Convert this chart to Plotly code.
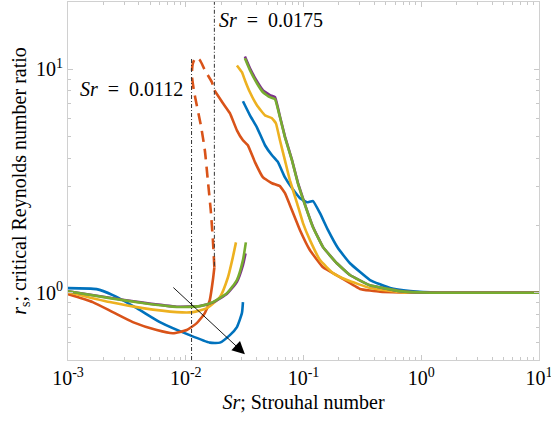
import numpy as np
import plotly.graph_objects as go

# ---- data (Sr, r_s) ----
blue_lo_sr = [0.001, 0.00175, 0.0024, 0.00384, 0.00603, 0.0108, 0.016, 0.0195, 0.0237, 0.0272, 0.030, 0.0306]
blue_lo_r = [1.049, 1.038, 0.976, 0.853, 0.739, 0.646, 0.598, 0.598, 0.646, 0.702, 0.811, 0.908]
blue_hi_sr = [0.0306, 0.0351, 0.0402, 0.0471, 0.054, 0.0607, 0.0696, 0.0798, 0.0934, 0.107, 0.1205, 0.138, 0.1616, 0.196, 0.248, 0.367, 0.544, 0.805, 1.44, 3.0, 10.0]
blue_hi_r = [7.19, 6.22, 5.5, 4.57, 4.12, 3.84, 3.28, 2.94, 2.65, 2.54, 2.57, 2.27, 1.905, 1.585, 1.355, 1.14, 1.049, 1.017, 1.0, 1.0, 1.0]

orange_lo_sr = [0.001, 0.00162, 0.0024, 0.00355, 0.00567, 0.00777, 0.0102, 0.0124, 0.01452, 0.016, 0.017, 0.0175]
orange_lo_r = [0.986, 0.908, 0.819, 0.739, 0.681, 0.659, 0.681, 0.731, 0.811, 0.927, 1.14, 1.30]
orange_dash_sr = [0.0175, 0.017, 0.0163, 0.0154, 0.01452, 0.01343, 0.0124, 0.01172, 0.01127, 0.01148, 0.0122, 0.0132, 0.01452, 0.01667, 0.0175]
orange_dash_r = [1.30, 1.72, 2.34, 3.18, 4.34, 5.62, 6.9, 8.05, 9.4, 10.6, 11.3, 10.97, 9.9, 8.75, 8.05]
orange_hi_sr = [0.0175, 0.0207, 0.0237, 0.0272, 0.0306, 0.0337, 0.0387, 0.0453, 0.054, 0.0631, 0.0696, 0.0798, 0.0934, 0.1135, 0.1465, 0.204, 0.302, 0.447, 0.66, 1.0, 10.0]
orange_hi_r = [8.05, 7.05, 6.36, 5.33, 4.81, 4.57, 3.84, 3.28, 3.09, 3.0, 2.79, 2.34, 1.905, 1.55, 1.3, 1.175, 1.04, 1.01, 1.003, 1.0, 1.0]

yellow_lo_sr = [0.001, 0.00226, 0.00431, 0.0084, 0.01148, 0.0151, 0.0195, 0.0228, 0.0251, 0.0267]
yellow_lo_r = [1.006, 0.908, 0.853, 0.819, 0.819, 0.853, 0.956, 1.17, 1.44, 1.68]
yellow_hi_sr = [0.0272, 0.030, 0.0318, 0.0351, 0.0402, 0.0471, 0.054, 0.0583, 0.0631, 0.0696, 0.0767, 0.0881, 0.099, 0.1135, 0.138, 0.178, 0.234, 0.367, 0.66, 1.0, 10.0]
yellow_hi_r = [10.4, 9.7, 8.94, 7.89, 6.9, 6.22, 6.04, 5.73, 4.81, 3.91, 3.18, 2.52, 2.05, 1.72, 1.4, 1.224, 1.14, 1.049, 1.006, 1.0, 1.0]

purple_lo_sr = [0.001, 0.00226, 0.00431, 0.0084, 0.0132, 0.017, 0.0224, 0.0272, 0.0306, 0.0322]
purple_lo_r = [1.015, 0.95, 0.903, 0.866, 0.872, 0.905, 0.99, 1.12, 1.33, 1.50]
purple_hi_sr = [0.0318, 0.0351, 0.0402, 0.0453, 0.0519, 0.0573, 0.0631, 0.0696, 0.0798, 0.0897, 0.103, 0.1205, 0.1465, 0.192, 0.248, 0.367, 0.66, 1.19, 10.0]
purple_hi_r = [11.4, 10.1, 8.85, 8.05, 7.65, 7.5, 6.15, 5.0, 3.93, 3.1, 2.48, 1.97, 1.6, 1.355, 1.2, 1.08, 1.017, 1.0, 1.0]

green_lo_sr = [0.001, 0.00226, 0.00431, 0.0084, 0.0132, 0.017, 0.0224, 0.0272, 0.0306, 0.0324]
green_lo_r = [1.015, 0.946, 0.899, 0.863, 0.871, 0.908, 0.996, 1.14, 1.40, 1.68]
green_hi_sr = [0.0318, 0.0351, 0.0402, 0.0453, 0.0519, 0.0573, 0.0631, 0.0696, 0.0798, 0.0897, 0.103, 0.1205, 0.1465, 0.192, 0.248, 0.367, 0.66, 1.19, 10.0]
green_hi_r = [11.2, 9.9, 8.66, 7.89, 7.5, 7.35, 6.1, 4.96, 3.91, 3.08, 2.47, 1.96, 1.6, 1.355, 1.2, 1.08, 1.017, 1.0, 1.0]

vline_sr = [0.0112, 0.0175]
vline1_r = [0.5, 11.2]
vline2_r = [1.32, 20.0]
arrow_tail = (0.00762, 1.07)
arrow_head = (0.0318, 0.531)

x_range = [0.001, 10.0]
y_range = [0.5, 20.0]
x_tickvals = [0.001, 0.01, 0.1, 1, 10]
x_ticktext = ["10<sup>-3</sup>", "10<sup>-2</sup>", "10<sup>-1</sup>", "10<sup>0</sup>", "10<sup>1</sup>"]
y_tickvals = [1, 10]
y_ticktext = ["10<sup>0</sup>", "10<sup>1</sup>"]
label_1 = "<i>Sr</i>\u00a0\u00a0=\u00a0\u00a00.0175"
label_2 = "<i>Sr</i>\u00a0\u00a0=\u00a0\u00a00.0112"

C_BLUE = "#0072BD"
C_ORANGE = "#D95319"
C_YELLOW = "#EDB120"
C_PURPLE = "#7E2F8E"
C_GREEN = "#77AC30"
FONT = "Liberation Serif, Times New Roman, DejaVu Serif, serif"
LW = 2.6

fig = go.Figure()

def add(sr, r, color, dash="solid", smooth=0.5):
    fig.add_trace(go.Scatter(x=sr, y=r, mode="lines",
                             line=dict(color=color, width=LW, dash=dash, shape="spline", smoothing=smooth),
                             hoverinfo="skip", showlegend=False))

add(blue_lo_sr, blue_lo_r, C_BLUE)
add(blue_hi_sr, blue_hi_r, C_BLUE, smooth=0.3)
add(orange_lo_sr, orange_lo_r, C_ORANGE)
add(orange_dash_sr, orange_dash_r, C_ORANGE, dash="11px,7px", smooth=0.6)
add(orange_hi_sr, orange_hi_r, C_ORANGE, smooth=0.3)
add(yellow_lo_sr, yellow_lo_r, C_YELLOW)
add(yellow_hi_sr, yellow_hi_r, C_YELLOW, smooth=0.3)
add(purple_lo_sr, purple_lo_r, C_PURPLE)
add(purple_hi_sr, purple_hi_r, C_PURPLE, smooth=0.3)
add(green_lo_sr, green_lo_r, C_GREEN)
add(green_hi_sr, green_hi_r, C_GREEN, smooth=0.3)

for xv, rr in [(vline_sr[0], vline1_r), (vline_sr[1], vline2_r)]:
    fig.add_trace(go.Scatter(x=[xv, xv], y=rr, mode="lines",
                             line=dict(color="#333333", width=1, dash="4px,2px,1px,2px"),
                             hoverinfo="skip", showlegend=False))

fig.add_annotation(x=np.log10(arrow_head[0]), y=np.log10(arrow_head[1]),
                   ax=np.log10(arrow_tail[0]), ay=np.log10(arrow_tail[1]),
                   xref="x", yref="y", axref="x", ayref="y", text="",
                   showarrow=True, arrowhead=2, arrowsize=2.8, arrowwidth=0.9, arrowcolor="black")

fig.add_annotation(x=np.log10(0.0185), y=np.log10(16.6), xref="x", yref="y",
                   text=label_1, showarrow=False,
                   xanchor="left", yanchor="middle", font=dict(family=FONT, size=20, color="black"))
fig.add_annotation(x=np.log10(0.00121), y=np.log10(8.2), xref="x", yref="y",
                   text=label_2, showarrow=False,
                   xanchor="left", yanchor="middle", font=dict(family=FONT, size=20, color="black"))

axis_common = dict(type="log", showgrid=False, zeroline=False, showline=True, linecolor="#d0d0d0",
                   linewidth=1, mirror="ticks", ticks="inside", ticklen=5, tickcolor="#c8c8c8",
                   tickmode="array", tickfont=dict(family=FONT, size=20, color="black"),
                   automargin=False, ticklabeloverflow="allow",
                   minor=dict(ticks="inside", ticklen=3, tickcolor="#c8c8c8", dtick="D1", showgrid=False))

eps = 1e-4
fig.update_layout(
    width=551, height=425,
    margin=dict(l=68, r=12, t=2, b=65),
    plot_bgcolor="white", paper_bgcolor="white",
    showlegend=False,
    font=dict(family=FONT, color="black"),
    xaxis=dict(range=[np.log10(x_range[0]) - eps, np.log10(x_range[1]) + eps],
               tickvals=x_tickvals, ticktext=x_ticktext,
               title=dict(text="<i>Sr</i>; Strouhal number", font=dict(family=FONT, size=20, color="black"), standoff=6),
               **axis_common),
    yaxis=dict(range=[np.log10(y_range[0]), np.log10(y_range[1])],
               tickvals=y_tickvals, ticktext=y_ticktext,
               title=dict(text="<i>r</i><sub>s</sub>; critical Reynolds number ratio", font=dict(family=FONT, size=20, color="black"), standoff=4),
               **axis_common),
)

fig.write_html("out.html")
